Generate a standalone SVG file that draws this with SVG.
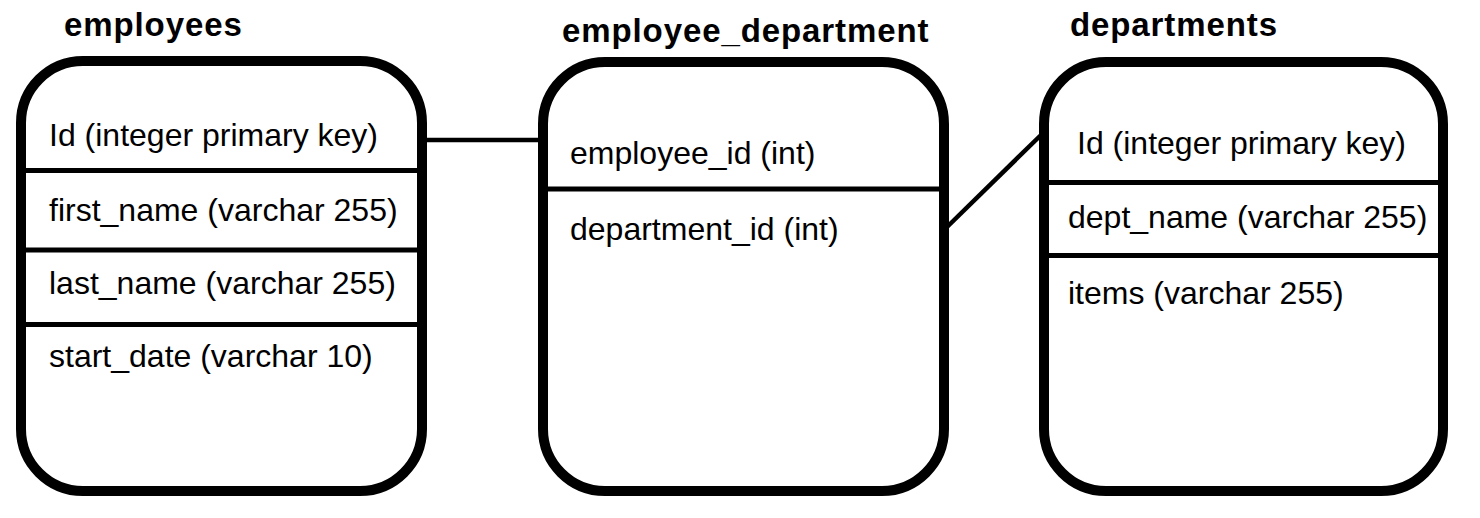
<svg xmlns="http://www.w3.org/2000/svg" width="1480" height="518" viewBox="0 0 1480 518">
  <style>
    .box { fill: #ffffff; stroke: #000000; stroke-width: 10; }
    .div { stroke: #000000; stroke-width: 5; fill: none; }
    .conn { stroke: #000000; stroke-width: 4.5; fill: none; }
    .title { font-family: "Liberation Sans", Arial, Helvetica, sans-serif; font-weight: bold; font-size: 33px; letter-spacing: 0.9px; fill: #000000; }
    .field { font-family: "Liberation Sans", Arial, Helvetica, sans-serif; font-size: 32px; fill: #000000; }
  </style>
  <rect x="0" y="0" width="1480" height="518" fill="#ffffff"/>

  <g id="connectors">
    <line class="conn" x1="424" y1="140" x2="542" y2="140"/>
    <line class="conn" x1="946" y1="228" x2="1041" y2="135"/>
  </g>

  <g id="employees">
    <text class="title" x="64" y="36">employees</text>
    <rect class="box" x="21" y="61" width="401" height="430" rx="62" ry="62"/>
    <line class="div" x1="21" y1="170.5" x2="422" y2="170.5"/>
    <line class="div" x1="21" y1="250" x2="422" y2="250"/>
    <line class="div" x1="21" y1="324.5" x2="422" y2="324.5"/>
    <text class="field" x="49" y="146">Id (integer primary key)</text>
    <text class="field" x="49" y="221">first_name (varchar 255)</text>
    <text class="field" x="49" y="294">last_name (varchar 255)</text>
    <text class="field" x="49" y="367">start_date (varchar 10)</text>
  </g>

  <g id="employee_department">
    <text class="title" x="562" y="42">employee_department</text>
    <rect class="box" x="543" y="62" width="401" height="429" rx="62" ry="62"/>
    <line class="div" x1="543" y1="189" x2="944" y2="189"/>
    <text class="field" x="570" y="164">employee_id (int)</text>
    <text class="field" x="570" y="240">department_id (int)</text>
  </g>

  <g id="departments">
    <text class="title" x="1070" y="36">departments</text>
    <rect class="box" x="1044" y="62" width="399" height="429" rx="62" ry="62"/>
    <line class="div" x1="1044" y1="182.5" x2="1443" y2="182.5"/>
    <line class="div" x1="1044" y1="255.5" x2="1443" y2="255.5"/>
    <text class="field" x="1077" y="154">Id (integer primary key)</text>
    <text class="field" x="1068" y="228">dept_name (varchar 255)</text>
    <text class="field" x="1068" y="304">items (varchar 255)</text>
  </g>
</svg>
